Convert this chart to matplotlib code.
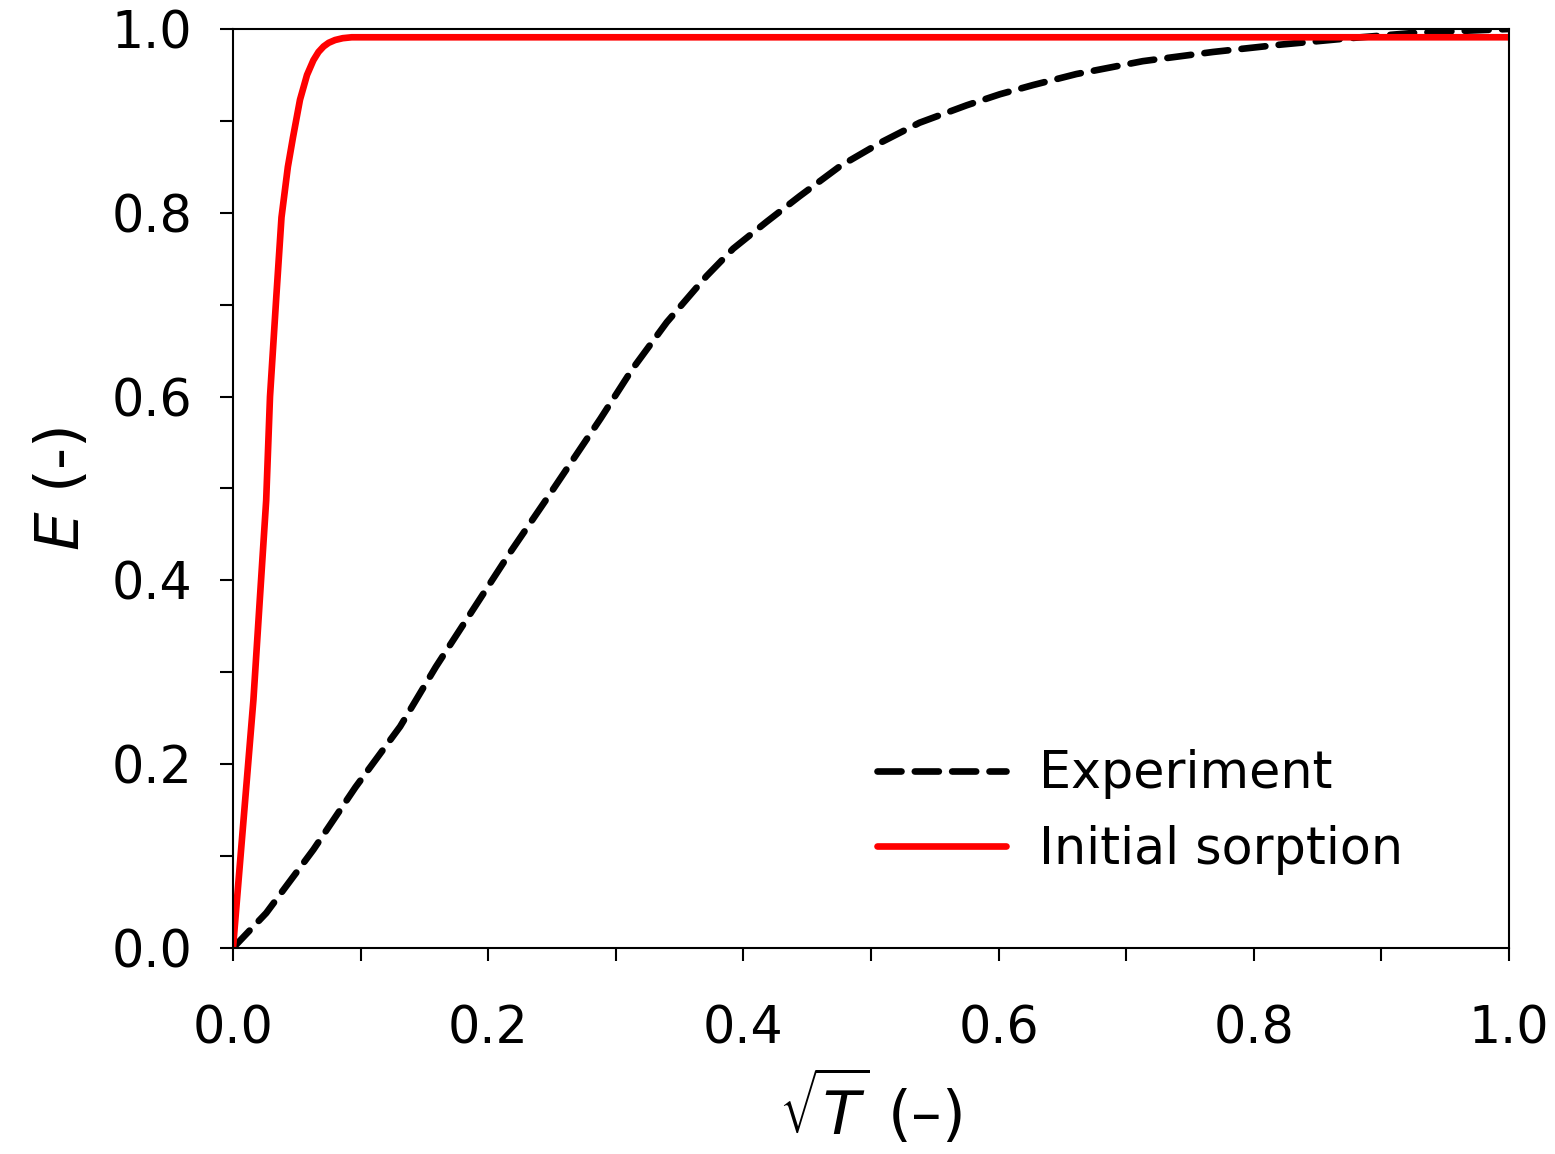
import numpy as np
import matplotlib
matplotlib.use('Agg')
import matplotlib.pyplot as plt
from matplotlib.ticker import MultipleLocator

plt.rcParams['font.family'] = ['DejaVu Sans']
plt.rcParams['mathtext.fontset'] = 'dejavusans'

# 实验曲线 (sqrt(T), E)
exp_x = [0.0, 0.026, 0.063, 0.096, 0.131, 0.159, 0.188, 0.217, 0.245, 0.288, 0.313,
         0.340, 0.371, 0.392, 0.418, 0.444, 0.476, 0.507, 0.538, 0.575, 0.601, 0.627,
         0.661, 0.713, 0.768, 0.821, 0.875, 0.928, 1.0]
exp_y = [0.0, 0.038, 0.107, 0.175, 0.241, 0.306, 0.368, 0.430, 0.487, 0.576, 0.630,
         0.681, 0.731, 0.761, 0.790, 0.818, 0.851, 0.876, 0.898, 0.917, 0.929, 0.939,
         0.951, 0.965, 0.975, 0.983, 0.990, 0.996, 1.0]

# 初始吸附曲线
init_x = [0.0, 0.016, 0.021, 0.026, 0.029, 0.034, 0.038, 0.043, 0.047, 0.0525,
          0.058, 0.063, 0.067, 0.071, 0.075, 0.080, 0.086, 0.093, 0.105, 0.2, 0.5, 1.0]
init_y = [0.0, 0.270, 0.379, 0.487, 0.600, 0.710, 0.795, 0.850, 0.882, 0.923,
          0.950, 0.966, 0.975, 0.981, 0.985, 0.988, 0.990, 0.991, 0.991, 0.991, 0.991, 0.991]

fig = plt.figure(figsize=(15.55, 11.54), dpi=100)
ax = fig.add_axes([233/1555, 1-948/1154, (1509-233)/1555, (948-29)/1154])

ax.plot(exp_x, exp_y, color='black', lw=4.8, dashes=(3.6, 2.0),
        dash_capstyle='round', solid_capstyle='round', label='Experiment')
ax.plot(init_x, init_y, color='red', lw=4.8, solid_capstyle='round',
        solid_joinstyle='round', label='Initial sorption')

ax.set_xlim(0, 1)
ax.set_ylim(0, 1)
ax.xaxis.set_major_locator(MultipleLocator(0.2))
ax.xaxis.set_minor_locator(MultipleLocator(0.1))
ax.yaxis.set_major_locator(MultipleLocator(0.2))
ax.yaxis.set_minor_locator(MultipleLocator(0.1))
ax.tick_params(which='both', direction='out', length=9.5, width=1.5, top=False, right=False)
ax.tick_params(axis='x', which='major', labelsize=36.5, pad=31)
ax.tick_params(axis='y', which='major', labelsize=36.5, pad=20)
for s in ax.spines.values():
    s.set_linewidth(1.5)

ax.set_xlabel(r'$\sqrt{T}$ (–)', fontsize=44, labelpad=10)
ax.set_ylabel(r'$E$ (-)', fontsize=44, labelpad=14)

ax.legend(loc='lower right', bbox_to_anchor=(0.953, 0.03), frameon=False, fontsize=36.5,
          handlelength=2.55, handletextpad=0.65, labelspacing=0.5)

fig.savefig('out.png', dpi=100)
